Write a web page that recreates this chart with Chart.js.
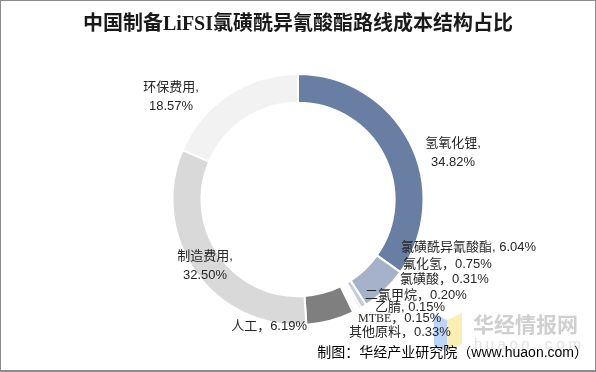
<!DOCTYPE html>
<html>
<head>
<meta charset="utf-8">
<script src="https://cdn.jsdelivr.net/npm/chart.js@4/dist/chart.umd.min.js"></script>
<style>
  html, body { margin: 0; padding: 0; background: #fff; }
  #frame { width: 596px; height: 372px; box-sizing: border-box; border: 1px solid #8c8c8c; border-bottom-width: 2px; }
  #costChart { display: block; }
</style>
</head>
<body>
<div id="frame"><canvas id="costChart" width="594" height="369"></canvas></div>
<script>
// cost structure, percent
var categories = ["氢氧化锂", "氯磺酰异氰酸酯", "氟化氢", "氯磺酸", "二氯甲烷", "乙腈", "MTBE", "其他原料", "人工", "制造费用", "环保费用"];
var shares = [34.82, 6.04, 0.75, 0.31, 0.20, 0.15, 0.15, 0.33, 6.19, 32.50, 18.57];
var sliceColors = ["#687ea3", "#a6b1ca", "#c3cbdc", "#b3bdd3", "#8a9abb", "#cfd5e3", "#9aa8c3", "#dde2eb", "#7f7f7f", "#d9d9d9", "#f2f2f2"];

// label text pieces
var labelSeps = [",\n", ", ", "，", "，", "，", ", ", "，", "，", "，", ",\n", ",\n"];
// label placement relative to ring centre: [dx, dy, align]
var labelSpots = [
    [155, -47, "center"],
    [103, 48, "left"],
    [105, 65, "left"],
    [102, 80, "left"],
    [67, 96, "left"],
    [77, 108, "left"],
    [60, 119, "left"],
    [51, 133, "left"],
    [9, 127, "right"],
    [-93, 66, "center"],
    [-127, -103, "center"]
];

var chartTitle = "中国制备LiFSI氯磺酰异氰酸酯路线成本结构占比";
var sourceNote = "制图：华经产业研究院（www.huaon.com）";

var sansFont = "'Liberation Sans', 'Noto Sans CJK SC', sans-serif";
var serifFont = "'Liberation Serif', 'Noto Sans CJK SC', serif";

function drawWatermark(ctx){
    ctx.save();
    ctx.globalAlpha = 0.6;
    ctx.fillStyle = "#8fbaf2";
    ctx.beginPath();
    ctx.moveTo(433, 313); ctx.lineTo(446, 319); ctx.lineTo(446, 350); ctx.lineTo(433, 345);
    ctx.closePath(); ctx.fill();
    ctx.fillStyle = "#f9e27f";
    ctx.beginPath();
    ctx.moveTo(446, 319); ctx.lineTo(461, 312); ctx.lineTo(461, 343); ctx.lineTo(446, 350);
    ctx.closePath(); ctx.fill();
    ctx.globalAlpha = 1;
    ctx.fillStyle = "#cfcfcf";
    ctx.font = "bold 21px 'Noto Sans CJK SC', sans-serif";
    ctx.textAlign = "left";
    ctx.textBaseline = "middle";
    ctx.fillText("华经情报网", 472, 323);
    ctx.fillStyle = "#e3e3e3";
    ctx.font = "15px " + sansFont;
    var s = "huaon.com";
    for (var i = 0; i < s.length; i++){ ctx.fillText(s[i], 473 + i * 11.8, 344); }
    ctx.restore();
}

function drawLabel(ctx, i, cx, cy){
    var spot = labelSpots[i];
    var name = categories[i];
    var sep = labelSeps[i];
    var val = shares[i].toFixed(2) + "%";
    var x = cx + spot[0], y = cy + spot[1];
    ctx.fillStyle = "#262626";
    ctx.textBaseline = "middle";
    if (sep.indexOf("\n") >= 0){
        ctx.font = "13px " + sansFont;
        ctx.textAlign = spot[2];
        ctx.fillText(name + sep.trim(), x, y - 9.5);
        ctx.fillText(val, x, y + 9.5);
        return;
    }
    var nameFont = /^[A-Z]+$/.test(name) ? "12px " + serifFont : "13px " + sansFont;
    ctx.font = nameFont;
    var w1 = ctx.measureText(name).width;
    ctx.font = "13px " + sansFont;
    var rest = sep + val;
    var w2 = ctx.measureText(rest).width;
    var left = x;
    if (spot[2] == "right") left = x - w1 - w2;
    else if (spot[2] == "center") left = x - (w1 + w2) / 2;
    ctx.textAlign = "left";
    ctx.font = nameFont;
    ctx.fillText(name, left, y);
    ctx.font = "13px " + sansFont;
    ctx.fillText(rest, left + w1, y);
}

var textPlugin = {
    id: "textPlugin",
    afterDraw: function(chart){
        var ctx = chart.ctx;
        var arc = chart.getDatasetMeta(0).data[0];
        var cx = arc.x, cy = arc.y;
        ctx.save();
        drawWatermark(ctx);
        ctx.fillStyle = "#1a1a1a";
        ctx.font = "bold 20px " + serifFont;
        ctx.textAlign = "center";
        ctx.textBaseline = "middle";
        ctx.fillText(chartTitle, 297, 24);
        for (var i = 0; i < categories.length; i++){ drawLabel(ctx, i, cx, cy); }
        ctx.fillStyle = "#000";
        ctx.font = "14px " + sansFont;
        ctx.textAlign = "right";
        ctx.textBaseline = "middle";
        ctx.fillText(sourceNote, 587, 352);
        ctx.restore();
    }
};

new Chart(document.getElementById("costChart"), {
    type: "doughnut",
    data: {
        labels: categories,
        datasets: [{
            data: shares,
            backgroundColor: sliceColors,
            borderColor: "#ffffff",
            borderWidth: 2
        }]
    },
    options: {
        responsive: false,
        animation: false,
        cutout: "77%",
        layout: { padding: { top: 72, bottom: 44, left: 0, right: 0 } },
        plugins: {
            legend: { display: false },
            tooltip: { enabled: false },
            title: { display: false }
        }
    },
    plugins: [textPlugin]
});
</script>
</body>
</html>
